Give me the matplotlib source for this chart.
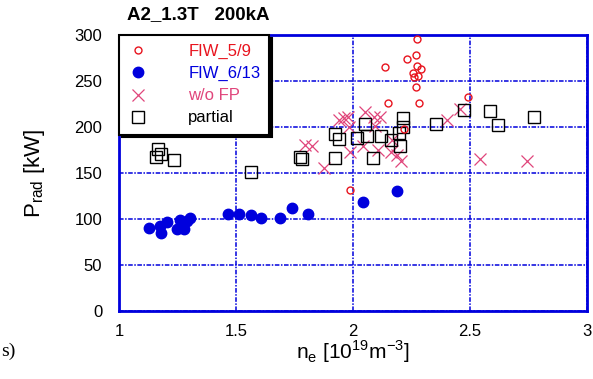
import matplotlib.pyplot as plt

plt.rcParams['font.family'] = ['Liberation Sans', 'DejaVu Sans']

# FIW_5/9 (open red circles)
fiw59_ne = [2.275, 2.268, 2.232, 2.135, 2.275, 2.293, 2.255, 2.262, 2.276, 2.271,
            2.149, 2.283, 2.493, 2.218, 1.987]
fiw59_p = [296, 278, 274, 265, 266, 263, 259, 254, 255, 243,
           226, 226, 233, 198, 132]

# FIW_6/13 (filled blue dots)
fiw613_ne = [1.130, 1.175, 1.180, 1.204, 1.246, 1.261, 1.278, 1.292, 1.303, 1.464,
             1.511, 1.565, 1.607, 1.688, 1.739, 1.808, 2.043, 2.190]
fiw613_p = [90, 92, 85, 97, 89, 99, 89, 98, 101, 105,
            106, 104, 101, 101, 112, 105, 119, 131]

# w/o FP (pink crosses)
wofp_ne = [1.940, 1.962, 1.980, 1.984, 2.051, 2.091, 2.115, 2.094, 1.795, 1.823,
           1.876, 1.987, 2.041, 2.105, 2.162, 2.189, 2.204, 2.165, 2.457, 2.400,
           2.543, 2.742]
wofp_p = [208, 210, 211, 200, 216, 211, 211, 201, 180, 179,
          155, 173, 179, 175, 173, 170, 163, 186, 220, 208,
          165, 163]

# partial (open black squares)
partial_ne = [1.168, 1.178, 1.157, 1.236, 1.563, 1.774, 1.781, 1.923, 2.084, 2.051,
              2.215, 2.212, 1.923, 1.942, 2.018, 2.058, 2.118, 2.161, 2.197, 2.201,
              2.357, 2.474, 2.585, 2.774, 2.622]
partial_p = [176, 171, 167, 164, 151, 167, 165, 166, 166, 203,
             210, 200, 192, 187, 188, 190, 190, 186, 193, 179,
             203, 218, 217, 211, 202]

red = '#e8141e'
blue = '#0000dd'
pink = '#e0457b'

fig = plt.figure(figsize=(5.93, 3.79), dpi=100)
ax = fig.add_axes([0.2007, 0.179, 0.789, 0.7287])

ax.plot(fiw59_ne, fiw59_p, 'o', mfc='none', mec=red, ms=5, mew=1, label='FIW_5/9', zorder=4)
ax.plot(fiw613_ne, fiw613_p, 'o', color=blue, ms=7.5, label='FIW_6/13', zorder=3)
ax.plot(wofp_ne, wofp_p, 'x', color=pink, ms=8, mew=0.9, label='w/o FP', zorder=3)
ax.plot(partial_ne, partial_p, 's', mfc='none', mec='black', ms=8.5, mew=1, label='partial', zorder=3)

ax.set_xlim(1, 3)
ax.set_ylim(0, 300)
ax.set_xticks([1, 1.5, 2, 2.5, 3])
ax.set_xticklabels(['1', '1.5', '2', '2.5', '3'])
ax.set_yticks([0, 50, 100, 150, 200, 250, 300])
ax.tick_params(length=0, labelsize=12)
ax.tick_params(axis='y', pad=12)
ax.tick_params(axis='x', pad=9)

ax.grid(True, color=blue, linestyle=(0, (3, 1, 1, 1)), linewidth=1.1)
for s in ax.spines.values():
    s.set_color(blue)
    s.set_linewidth(2)

ax.set_xlabel(r'n$_\mathregular{e}$ [10$^\mathregular{19}$m$^\mathregular{-3}$]', fontsize=15, labelpad=0)
ax.set_ylabel(r'P$_\mathregular{rad}$ [kW]', fontsize=16, labelpad=20)
fig.text(127 / 593, 1 - 15 / 379, 'A2_1.3T   200kA', fontsize=13.5, fontweight='bold',
         ha='left', va='center')

leg = ax.legend(loc='upper left', fontsize=12, frameon=True, fancybox=False,
                edgecolor='black', shadow={'color': 'black', 'alpha': 1},
                borderaxespad=0, handletextpad=2.4, labelspacing=0.42,
                borderpad=0.55, handlelength=1.2)
leg.get_frame().set_linewidth(1.5)
for t, c in zip(leg.get_texts(), [red, blue, pink, 'black']):
    t.set_color(c)

fig.text(0.002, 0.06, 's)', fontsize=14, family='Liberation Serif')

fig.savefig('out.png', dpi=100)
